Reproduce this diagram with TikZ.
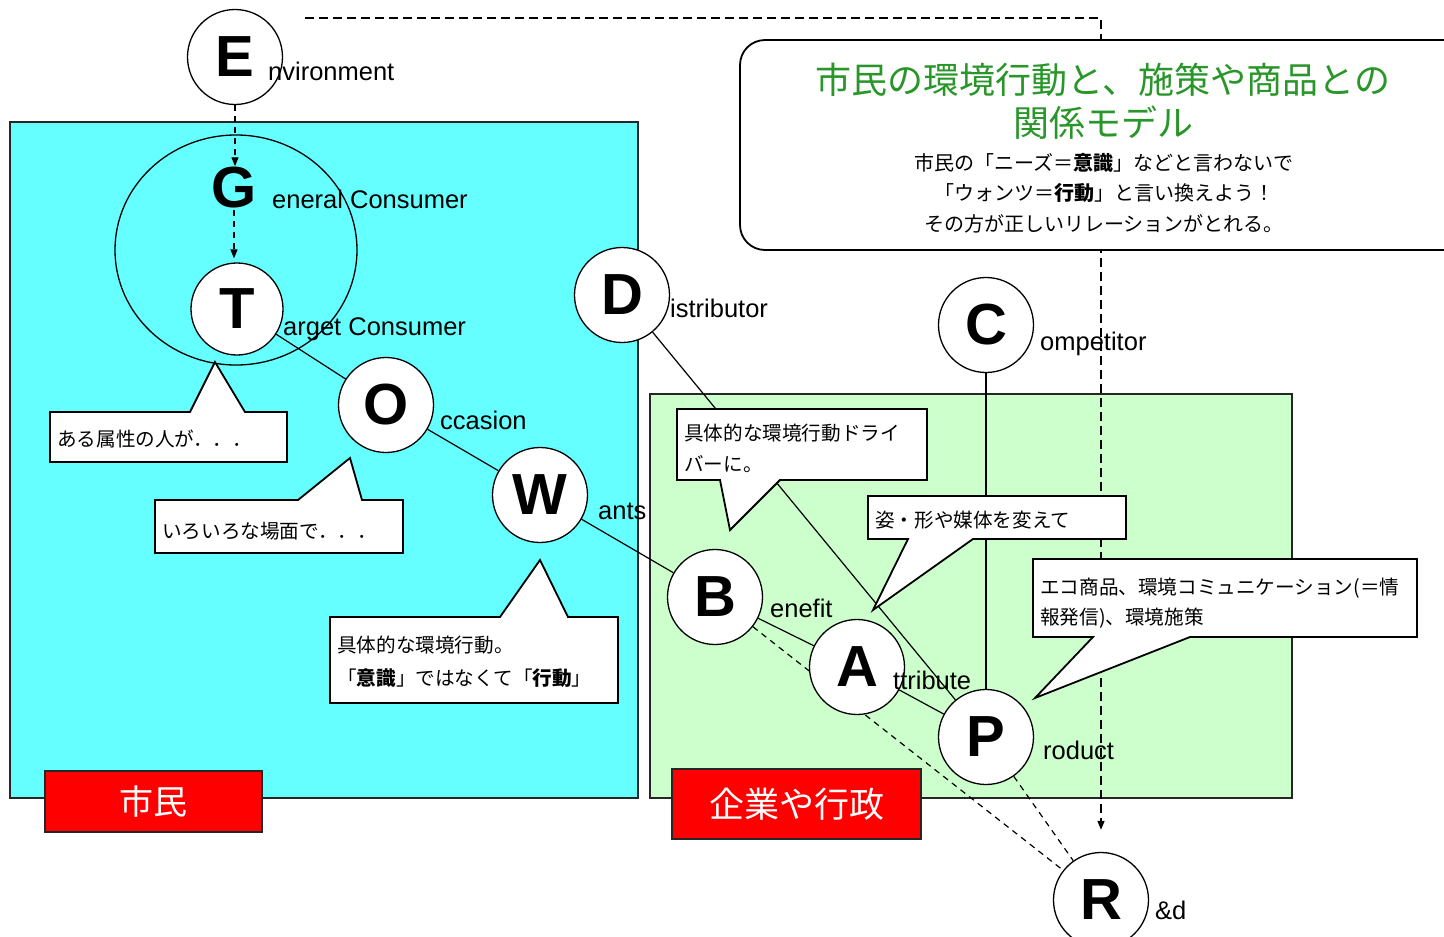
\documentclass[tikz,border=0pt]{standalone}
\usepackage{fontspec}
\setmainfont{Liberation Sans}
\newfontfamily\jp{Noto Sans CJK JP}
\usetikzlibrary{arrows.meta,shapes.geometric}
\pgfdeclarelayer{bg}\pgfdeclarelayer{ln}
\pgfsetlayers{bg,ln,main}
\definecolor{cyanbg}{RGB}{102,255,255}
\definecolor{greenbg}{RGB}{204,255,204}
\definecolor{titlegreen}{RGB}{40,150,40}
\begin{document}
\begin{tikzpicture}[x=1pt,y=-1pt,
 circ/.style={circle,draw,line width=1.3pt,fill=white,minimum size=95pt,inner sep=0pt,font=\fontsize{58}{58}\selectfont\bfseries},
 lbl/.style={anchor=base west,inner sep=0pt,font=\fontsize{25.5}{26}\selectfont},
 conn/.style={line width=1.2pt},
 dconn/.style={line width=1.2pt,dash pattern=on 6pt off 5pt},
 bigdash/.style={line width=1.4pt,dash pattern=on 9pt off 5pt},
 callout/.style={draw,line width=1.8pt,fill=white,line join=miter},
 ctext/.style={anchor=base west,inner sep=0pt,font=\jp\fontsize{19.6}{19.6}\selectfont},
 areabox/.style={draw=black!85,line width=1.8pt},
 redbox/.style={draw=black!85,line width=1.8pt,fill=red,text=white,inner sep=0pt},
 arr/.style={-{Triangle[length=9pt,width=7pt]}}
]
\useasboundingbox (0,0) rectangle (1444,937);
\clip (0,0) rectangle (1444,937);

% areas
\begin{pgfonlayer}{bg}
\fill[white] (0,0) rectangle (1444,937);
\draw[areabox,fill=cyanbg] (10,122) rectangle (638,798);
\draw[areabox,fill=greenbg] (650,394) rectangle (1292,798);
\end{pgfonlayer}

% big ellipse around G and T
\node[ellipse,draw,line width=1.3pt,minimum width=242pt,minimum height=230pt,inner sep=0pt] (gen) at (236,250) {};

% circles
\node[circ] (E) at (235,57) {E};
\node[inner sep=1pt,font=\fontsize{58}{58}\selectfont\bfseries] (G) at (234,188) {G};
\node[circ,minimum size=92pt] (T) at (237,309) {T};
\node[circ] (O) at (386,405) {O};
\node[circ] (W) at (540,495) {W};
\node[circ] (D) at (622,295) {D};
\node[circ] (C) at (986,325) {C};
\node[circ] (B) at (715,597) {B};
\node[circ] (A) at (857,667) {A};
\node[circ] (P) at (986,737) {P};
\node[circ] (R) at (1101,900) {R};
\coordinate (etop) at (305,18);

% connectors
\begin{pgfonlayer}{ln}
\draw[conn] (T) -- (O);
\draw[conn] (O) -- (W);
\draw[conn] (W) -- (B);
\draw[conn] (B) -- (A);
\draw[conn] (A) -- (P);
\draw[conn] (D) -- (P);
\draw[conn] (C) -- (P);
\draw[dconn] (B) -- (R);
\draw[dconn] (P) -- (R);
\draw[dconn,arr] (E.south) -- (E.south |- G.north);
\draw[dconn,arr,shorten >=4pt] (G.south) -- (G.south |- T.north);
\draw[bigdash,arr,shorten >=22pt] (etop) -| (R.north);
\end{pgfonlayer}

% labels
\node[lbl] (lE) at (268,80) {nvironment};
\node[lbl] (lG) at (272,208) {eneral Consumer};
\node[lbl] (lT) at (283,335) {arget Consumer};
\node[lbl] (lO) at (440,429) {ccasion};
\node[lbl] (lW) at (598,519) {ants};
\node[lbl] (lD) at (670,317) {istributor};
\node[lbl] (lC) at (1040,350) {ompetitor};
\node[lbl] (lB) at (770,617) {enefit};
\node[lbl] (lA) at (893,689) {ttribute};
\node[lbl] (lP) at (1043,759) {roduct};
\node[lbl] (lR) at (1155,919) {\&d};

% title box
\draw[line width=1.8pt,fill=white,rounded corners=25pt] (740,40) rectangle (1480,250);
\node[font=\jp\fontsize{36}{43}\selectfont,text=titlegreen,align=center] (title) at (1103,101) {市民の環境行動と、施策や商品との\\関係モデル};
\node[font=\jp\fontsize{20}{30.5}\selectfont,align=center] (sub) at (1104,193) {市民の「ニーズ＝{\bfseries 意識}」などと言わないで\\「ウォンツ＝{\bfseries 行動}」と言い換えよう！\\その方が正しいリレーションがとれる。};

% callouts
\draw[callout] (50,412) -- (190,412) -- (215,362) -- (245,412) -- (287,412) -- (287,462) -- (50,462) -- cycle;
\node[ctext] (t1) at (57,446) {ある属性の人が．．．};

\draw[callout] (155,500) -- (298,500) -- (350,458) -- (362,500) -- (403,500) -- (403,553) -- (155,553) -- cycle;
\node[ctext] (t2) at (162,538) {いろいろな場面で．．．};

\draw[callout] (330,617) -- (500,617) -- (540,560) -- (568,617) -- (618,617) -- (618,703) -- (330,703) -- cycle;
\node[ctext] (t3a) at (337,652) {具体的な環境行動。};
\node[ctext] (t3b) at (337,685) {「{\bfseries 意識}」ではなくて「{\bfseries 行動}」};

\draw[callout] (677,409) -- (927,409) -- (927,480) -- (780,480) -- (730,530) -- (720,480) -- (677,480) -- cycle;
\node[ctext] (t4a) at (684,440) {具体的な環境行動ドライ};
\node[ctext] (t4b) at (684,471) {バーに。};

\draw[callout] (868,496) -- (1126,496) -- (1126,539) -- (973,539) -- (873,610) -- (908,539) -- (868,539) -- cycle;
\node[ctext] (t5) at (875,527) {姿・形や媒体を変えて};

\draw[callout] (1033,559) -- (1417,559) -- (1417,637) -- (1190,637) -- (1035,698) -- (1093,637) -- (1033,637) -- cycle;
\node[ctext] (t6a) at (1040,594) {エコ商品、環境コミュニケーション(＝情};
\node[ctext] (t6b) at (1040,624) {報発信)、環境施策};

% red labels
\node[redbox,minimum width=217pt,minimum height=61pt,font=\jp\fontsize{34}{34}\selectfont] (shimin) at (153.5,801.5) {市民};
\node[redbox,minimum width=249pt,minimum height=70pt,font=\jp\fontsize{35}{35}\selectfont] (kigyo) at (796.5,804) {企業や行政};
\end{tikzpicture}
\end{document}
